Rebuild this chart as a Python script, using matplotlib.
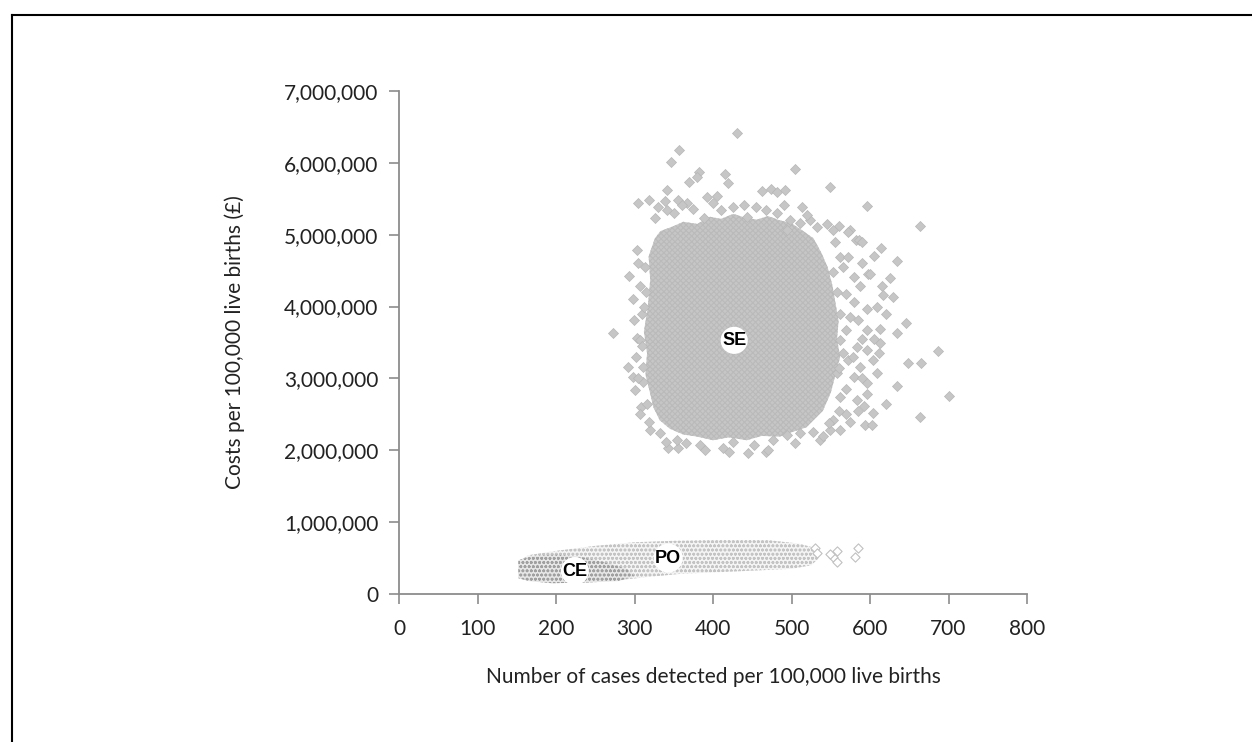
import numpy as np
import matplotlib
matplotlib.use('Agg')
import matplotlib.pyplot as plt
from matplotlib.patches import Polygon
from matplotlib.lines import Line2D
from matplotlib.ticker import FuncFormatter

# SE strategy: dense core outline (cases, cost in millions)
se_core_x = [318, 326, 333, 350, 362, 380, 396, 410, 426, 440, 456, 470, 485, 500, 515,
             528, 538, 546, 552, 556, 560, 558, 562, 556, 550, 540, 519, 500, 485, 462,
             443, 420, 400, 380, 362, 345, 332, 324, 320, 314, 316, 312, 317, 320]
se_core_y = [4.70, 4.95, 5.05, 5.12, 5.18, 5.15, 5.25, 5.22, 5.29, 5.24, 5.21, 5.26, 5.20,
             5.16, 5.05, 4.95, 4.75, 4.55, 4.30, 4.05, 3.80, 3.55, 3.30, 3.05, 2.80, 2.55,
             2.32, 2.25, 2.19, 2.20, 2.14, 2.18, 2.14, 2.19, 2.22, 2.30, 2.42, 2.60, 2.79,
             3.05, 3.35, 3.65, 4.00, 4.37]

# SE strategy: scattered simulations outside the core
se_pts_x = [431, 357, 347, 504, 382, 380, 415, 369, 419, 549, 341, 463, 474, 481, 492,
            304, 318, 339, 356, 367, 392, 405, 440, 596, 514, 664, 561, 574, 582, 586,
            614, 635, 293, 298, 273, 598, 615, 629, 616, 646, 634, 686, 665, 649, 701,
            664, 634, 621, 604, 594, 602, 343, 355, 445, 467, 536, 292, 298, 311, 308,
            303, 309,
            553, 572, 562, 572, 553, 579, 600, 587, 570, 579, 596, 609, 562, 585, 570,
            596, 613, 562, 583, 596, 613, 572, 587, 604, 558, 579, 596, 609, 562, 583,
            596, 570, 553, 549, 562, 592,
            303, 313, 307, 299, 307, 311, 301, 316, 307, 333, 320,
            326, 341, 375, 388, 426, 443, 468, 481, 498, 511, 532, 524, 494,
            366, 383, 413, 426, 452, 477, 494, 511, 528, 354,
            556, 566, 590, 558, 575, 590, 565, 605, 578, 560, 590, 570, 585, 560, 575,
            548, 612, 620, 625, 605, 590,
            350, 360, 410, 455, 490, 520, 545, 400, 330,
            340, 390, 420, 470, 505, 540,
            305, 312, 302, 310, 305, 315, 318]
se_pts_y = [6.42, 6.18, 6.01, 5.92, 5.87, 5.80, 5.85, 5.73, 5.72, 5.67, 5.62, 5.61, 5.64,
            5.60, 5.62, 5.44, 5.49, 5.47, 5.49, 5.44, 5.52, 5.54, 5.42, 5.40, 5.38, 5.12,
            5.12, 5.06, 4.93, 4.92, 4.81, 4.63, 4.42, 4.10, 3.63, 4.45, 4.28, 4.14, 4.16,
            3.77, 3.63, 3.38, 3.22, 3.22, 2.75, 2.47, 2.90, 2.65, 2.52, 2.35, 2.35, 2.03,
            2.03, 1.96, 1.98, 2.14, 3.16, 3.02, 2.95, 2.60, 3.56, 3.90,
            5.06, 5.04, 4.69, 4.69, 4.48, 4.41, 4.46, 4.28, 4.18, 4.07, 3.97, 3.99, 3.90,
            3.81, 3.67, 3.67, 3.69, 3.53, 3.44, 3.39, 3.49, 3.26, 3.16, 3.26, 3.07, 3.02,
            2.93, 3.07, 2.74, 2.70, 2.79, 2.51, 2.42, 2.28, 2.28, 2.61,
            4.79, 4.55, 4.28, 3.81, 3.53, 3.16, 2.84, 2.65, 2.51, 2.24, 2.28,
            5.23, 5.34, 5.36, 5.23, 5.39, 5.25, 5.34, 5.30, 5.20, 5.16, 5.11, 5.20, 5.06,
            2.10, 2.07, 2.03, 2.12, 2.07, 2.14, 2.21, 2.24, 2.26, 2.14,
            4.90, 4.55, 4.60, 4.20, 3.85, 3.55, 3.35, 3.55, 3.30, 3.15, 3.00, 2.85, 2.55,
            2.55, 2.40, 2.38, 3.35, 3.90, 4.40, 4.70, 4.90,
            5.30, 5.42, 5.35, 5.38, 5.42, 5.28, 5.15, 5.44, 5.38,
            2.12, 2.00, 1.98, 2.00, 2.10, 2.20,
            4.60, 4.00, 3.30, 3.45, 3.00, 4.20, 2.40]

# PO strategy band outline and loose points at the right end
po_x = [152, 152, 165, 200, 250, 300, 350, 400, 470, 510, 530, 535, 525, 500, 460,
        400, 358, 320, 277, 230, 192, 160]
po_y = [0.25, 0.45, 0.54, 0.60, 0.67, 0.72, 0.74, 0.75, 0.75, 0.70, 0.64, 0.50, 0.40,
        0.35, 0.33, 0.30, 0.28, 0.24, 0.19, 0.17, 0.16, 0.20]
po_pts_x = [585, 581, 558, 553, 558, 549, 530, 532]
po_pts_y = [0.64, 0.51, 0.60, 0.52, 0.45, 0.55, 0.64, 0.57]

# CE strategy outline
ce_x = [152, 152, 170, 200, 230, 260, 290, 300, 280, 240, 195, 165]
ce_y = [0.22, 0.47, 0.53, 0.55, 0.52, 0.45, 0.35, 0.25, 0.18, 0.16, 0.15, 0.18]

labels = ['SE', 'PO', 'CE']
label_x = [427, 343, 224]
label_y = [3.53, 0.50, 0.32]

plt.rcParams['font.family'] = ['Lato', 'DejaVu Sans']
plt.rcParams['hatch.linewidth'] = 0.8

fig = plt.figure(figsize=(12.52, 7.42), dpi=100)
ax = fig.add_axes([399 / 1252, 1 - 594 / 742, 628 / 1252, 503 / 742])

M = 1e6
ax.add_patch(Polygon(np.column_stack([se_core_x, np.array(se_core_y) * M]),
                     closed=True, facecolor='#c6c6c6', edgecolor='#bababa', hatch='xxxxxx',
                     lw=0, zorder=2))
ax.scatter(se_pts_x, np.array(se_pts_y) * M, marker='D', s=26, facecolor='#c6c6c6',
           edgecolor='#b6b6b6', linewidths=0.5, zorder=3)

ax.add_patch(Polygon(np.column_stack([po_x, np.array(po_y) * M]), closed=True,
                     facecolor='#f4f4f4', edgecolor='#c4c4c4', hatch='oooo', lw=0, zorder=2))
ax.scatter(po_pts_x, np.array(po_pts_y) * M, marker='D', s=22, facecolor='white',
           edgecolor='#c0c0c0', linewidths=0.8, zorder=3)
ax.add_patch(Polygon(np.column_stack([ce_x, np.array(ce_y) * M]), closed=True,
                     facecolor='#e6e6e6', edgecolor='#a0a0a0', hatch='oooo', lw=0, zorder=2.5))

for lab, lx, ly in zip(labels, label_x, label_y):
    ax.text(lx, ly * M, lab, ha='center', va='center', fontsize=13, fontweight='bold',
            family='Liberation Sans', zorder=5,
            bbox=dict(boxstyle='circle,pad=0.08', facecolor='white', edgecolor='none'))

ax.set_xlim(0, 800)
ax.set_ylim(0, 7 * M)
ax.set_xticks(range(0, 801, 100))
ax.set_yticks(np.arange(0, 7.01, 1) * M)
ax.yaxis.set_major_formatter(FuncFormatter(lambda v, p: f'{int(round(v)):,}'))

for side in ['top', 'right']:
    ax.spines[side].set_visible(False)
for side in ['left', 'bottom']:
    ax.spines[side].set_color('#8c8c8c')
    ax.spines[side].set_linewidth(1.3)
ax.tick_params(axis='both', direction='out', length=7, width=1.2, color='#8c8c8c',
               labelsize=15, labelcolor='#222222')
ax.tick_params(axis='x', pad=11)
ax.tick_params(axis='y', pad=8)

ax.set_xlabel('Number of cases detected per 100,000 live births', fontsize=15,
              color='#222222', labelpad=20)
ax.set_ylabel('Costs per 100,000 live births (£)', fontsize=15, color='#222222', labelpad=28)

# outer frame (top and left edges)
fx = 12 / 1252
fy = 1 - 15 / 742
fig.add_artist(Line2D([fx, 1], [fy, fy], transform=fig.transFigure, color='black', lw=1.5))
fig.add_artist(Line2D([fx, fx], [0, fy], transform=fig.transFigure, color='black', lw=1.5))

fig.savefig('out.png', dpi=100)
